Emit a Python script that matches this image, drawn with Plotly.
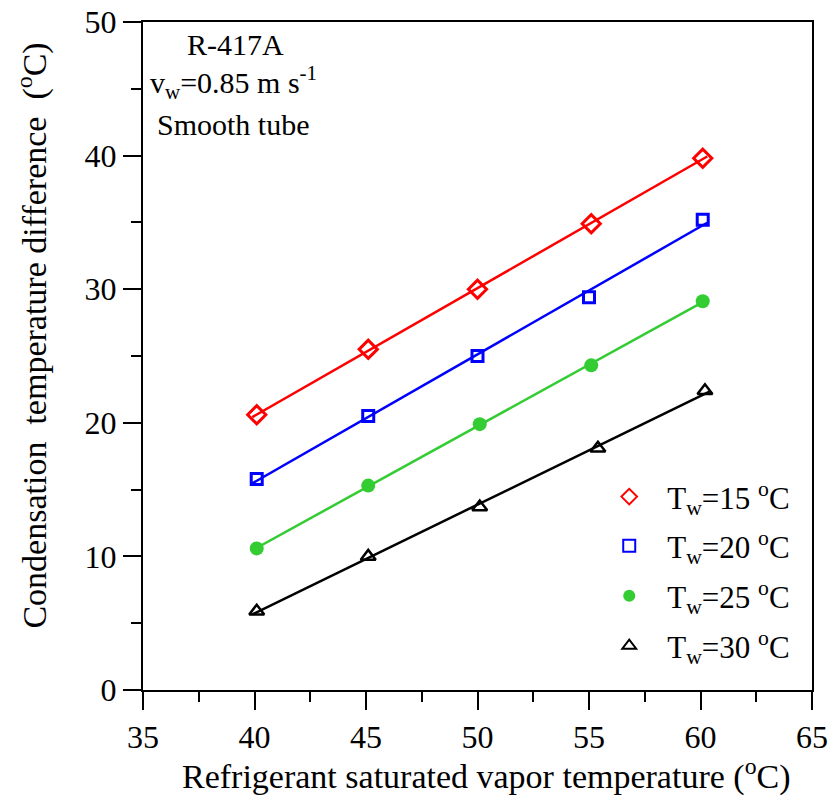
import numpy as np
import plotly.graph_objects as go

x15 = [40.1, 45.1, 50.0, 55.1, 60.1]
y15 = [20.6, 25.5, 30.0, 34.9, 39.8]
x20 = [40.1, 45.1, 50.0, 55.0, 60.1]
y20 = [15.8, 20.5, 25.0, 29.4, 35.2]
x25 = [40.1, 45.1, 50.1, 55.1, 60.1]
y25 = [10.6, 15.3, 19.9, 24.3, 29.1]
x30 = [40.1, 45.1, 50.1, 55.4, 60.2]
y30 = [5.9, 10.0, 13.7, 18.1, 22.4]

series = [
    (x15, y15, "red", dict(symbol="diamond-open", size=14, line=dict(width=3, color="red")), "T<sub>w</sub>=15 <sup>o</sup>C"),
    (x20, y20, "blue", dict(symbol="square-open", size=11, line=dict(width=3, color="blue")), "T<sub>w</sub>=20 <sup>o</sup>C"),
    (x25, y25, "#33cc33", dict(symbol="circle", size=14, color="#33cc33"), "T<sub>w</sub>=25 <sup>o</sup>C"),
    (x30, y30, "black", dict(symbol="triangle-up-open", size=13, line=dict(width=2.5, color="black")), "T<sub>w</sub>=30 <sup>o</sup>C"),
]
legend_y = [0.289, 0.2156, 0.1407, 0.0659]

FONT = "Liberation Serif, Times New Roman, serif"
fig = go.Figure()
legend_layout = {}
for i, (xs, ys, col, mk, name) in enumerate(series):
    a, b = np.polyfit(xs, ys, 1)
    xl = [min(xs) - 0.2, max(xs) + 0.2]
    fig.add_trace(go.Scatter(x=xl, y=[a * v + b for v in xl], mode="lines",
                             line=dict(color=col, width=2.5), showlegend=False, hoverinfo="skip"))
    mk = dict(mk)
    if "color" not in mk:
        mk["color"] = col
    lname = "legend" if i == 0 else f"legend{i+1}"
    fig.add_trace(go.Scatter(x=xs, y=ys, mode="markers", marker=mk, name=name, legend=lname))
    legend_layout[lname] = dict(x=0.670, y=legend_y[i], xanchor="left", yanchor="middle",
                                bgcolor="rgba(0,0,0,0)", itemwidth=66,
                                font=dict(family=FONT, size=31, color="black"),
                                itemsizing="constant")

axis_common = dict(
    showgrid=False, zeroline=False, showline=True, linecolor="black", linewidth=2,
    mirror=True, ticks="outside", ticklen=18, tickwidth=2, tickcolor="black",
    tickfont=dict(family=FONT, size=32, color="black"), automargin=False,
    ticklabeloverflow="allow",
)
fig.update_xaxes(range=[35, 65], dtick=5, tick0=35,
                 minor=dict(dtick=2.5, ticks="outside", ticklen=10, tickwidth=2, tickcolor="black"),
                 **axis_common)
fig.update_yaxes(range=[0, 50], dtick=10, tick0=0,
                 minor=dict(dtick=5, ticks="outside", ticklen=10, tickwidth=2, tickcolor="black"),
                 **axis_common)

fig.add_annotation(xref="paper", yref="paper", x=0.513, y=-0.127, xanchor="center", yanchor="middle",
                   text="Refrigerant saturated vapor temperature (<sup>o</sup>C)", showarrow=False,
                   font=dict(family=FONT, size=34, color="black"))
fig.add_annotation(xref="paper", yref="paper", x=-0.165, y=0.530, xanchor="center", yanchor="middle",
                   textangle=-90,
                   text="Condensation \u00a0temperature difference \u00a0(<sup>o</sup>C)", showarrow=False,
                   font=dict(family=FONT, size=34, color="black"))

ann_font = dict(family=FONT, size=30, color="black")
fig.add_annotation(xref="paper", yref="paper", x=0.138, y=0.966, xanchor="center", yanchor="middle",
                   text="R-417A", showarrow=False, font=ann_font)
fig.add_annotation(xref="paper", yref="paper", x=0.135, y=0.909, xanchor="center", yanchor="middle",
                   text="v<sub>w</sub>=0.85 m s<sup>-1</sup>", showarrow=False, font=ann_font)
fig.add_annotation(xref="paper", yref="paper", x=0.135, y=0.846, xanchor="center", yanchor="middle",
                   text="Smooth tube", showarrow=False, font=ann_font)

fig.update_layout(
    width=830, height=800,
    margin=dict(l=143, r=18, t=22, b=110),
    paper_bgcolor="white", plot_bgcolor="white",
    showlegend=True,
    **legend_layout,
)
# remove the browser's default 8px body margin so the figure fills the window exactly
fig.write_html("out.html", config={"displayModeBar": False},
               post_script="document.body.style.margin='0px';")
